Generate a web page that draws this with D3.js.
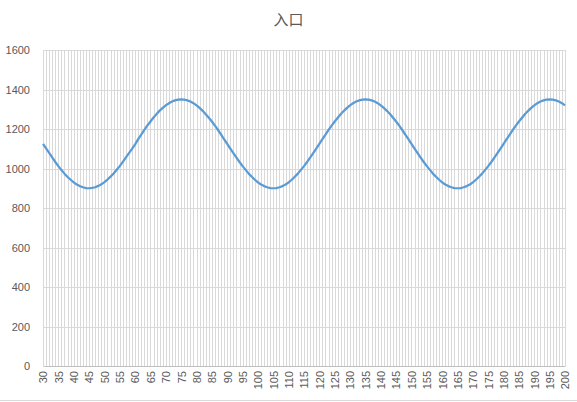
<!DOCTYPE html>
<html>
<head>
<meta charset="utf-8">
<script src="https://cdn.jsdelivr.net/npm/d3@7"></script>
<style>
  body { margin: 0; background: #fff; }
  text { font-family: "Liberation Sans", "DejaVu Sans", sans-serif; }
</style>
</head>
<body>
<div id="chart"></div>
<script>
var title = "入口";
var x_start = 30;
var x_end = 200;
var y_ticks = [0, 200, 400, 600, 800, 1000, 1200, 1400, 1600];

// values, one per integer step 30..200
var values_a = [1125,1102,1079,1056,1033,1012,992,974,957,943,930,919,911,905,901,900,902,905,912,920,931,944,959,975,994,1012,1034,1056,1078,1099,
  1122,1149,1172,1196,1218,1238,1258,1276,1293,1307,1320,1330,1339,1345,1349,1350,1349,1345,1339,1331,1320,1307,1292,1275,1257,1238,1217,1195,1172,1148];
var values_b = [1125,1101,1078,1055,1033,1012,993,974,958,943,930,919,911,905,901,900,901,905,911,919,930,943,958,974,993,1012,1033,1055,1078,1101,
  1125,1149,1172,1195,1217,1238,1257,1276,1292,1307,1320,1331,1339,1345,1349,1350,1349,1345,1339,1331,1320,1307,1292,1276,1257,1238,1217,1195,1172,1149];
var values_c = [1125,1101,1078,1055,1033,1012,993,974,958,943,930,919,911,905,901,900,901,905,911,919,930,943,958,974,993,1012,1033,1055,1078,1101,
  1125,1149,1172,1195,1217,1238,1257,1276,1292,1307,1320,1331,1339,1345,1349,1350,1349,1345,1339,1331,1320];

var values = values_a.concat(values_b, values_c);
var categories = d3.range(x_start, x_end + 1);
var data = categories.map(function (c, i) { return { x: c, y: values[i] }; });

var W = 577, H = 402;
var margin = { top: 50, right: 12, bottom: 36, left: 43 };
var width = W - margin.left - margin.right,
    height = H - margin.top - margin.bottom;

var svg = d3.select("#chart").append("svg")
    .attr("width", W)
    .attr("height", H);

svg.append("text")
    .attr("x", W / 2)
    .attr("y", 25)
    .attr("text-anchor", "middle")
    .style("font-family", "'Noto Sans CJK SC', sans-serif")
    .style("font-size", "15px")
    .attr("fill", "#595959")
    .text(title);

var g = svg.append("g").attr("transform", "translate(" + margin.left + "," + margin.top + ")");

var x = d3.scaleLinear().domain([x_start, x_end]).range([0, width]);
var y = d3.scaleLinear().domain([0, 1600]).range([height, 0]);

// vertical gridlines, one per category
g.append("g").selectAll("line")
    .data(categories)
    .enter().append("line")
    .attr("x1", function (d) { return Math.round(x(d)) + 0.5; })
    .attr("x2", function (d) { return Math.round(x(d)) + 0.5; })
    .attr("y1", 0)
    .attr("y2", height)
    .attr("stroke", "#d9d9d9")
    .attr("stroke-width", 1);

// horizontal gridlines
g.append("g").selectAll("line")
    .data(y_ticks.slice(1))
    .enter().append("line")
    .attr("x1", 0)
    .attr("x2", width)
    .attr("y1", function (d) { return Math.round(y(d)) + 0.5; })
    .attr("y2", function (d) { return Math.round(y(d)) + 0.5; })
    .attr("stroke", "#d9d9d9");

// y axis labels
var yAxis = d3.axisLeft(y).tickValues(y_ticks).tickSize(0).tickPadding(13).tickFormat(d3.format("d"));
var yg = g.append("g").call(yAxis);
yg.select(".domain").remove();
yg.selectAll("text").attr("fill", "#595959").style("font-size", "11px");

// x axis
var xAxis = d3.axisBottom(x)
    .tickValues(categories.filter(function (d) { return d % 5 === 0; }))
    .tickSize(0)
    .tickFormat(d3.format("d"));
var xg = g.append("g").attr("transform", "translate(0," + height + ")").call(xAxis);
xg.select(".domain").attr("stroke", "#bfbfbf");
xg.selectAll("text")
    .attr("fill", "#595959")
    .style("font-size", "11px")
    .attr("transform", "rotate(-90)")
    .attr("text-anchor", "end")
    .attr("x", -5)
    .attr("y", 0)
    .attr("dy", "0.35em");

// the line
var line = d3.line()
    .x(function (d) { return x(d.x); })
    .y(function (d) { return y(d.y); });

g.append("path")
    .datum(data)
    .attr("fill", "none")
    .attr("stroke", "#5b9bd5")
    .attr("stroke-width", 2.25)
    .attr("stroke-linejoin", "round")
    .attr("d", line);

// bottom border of the chart area
svg.append("line")
    .attr("x1", 0).attr("x2", W)
    .attr("y1", H - 1.5).attr("y2", H - 1.5)
    .attr("stroke", "#d9d9d9");
</script>
</body>
</html>
